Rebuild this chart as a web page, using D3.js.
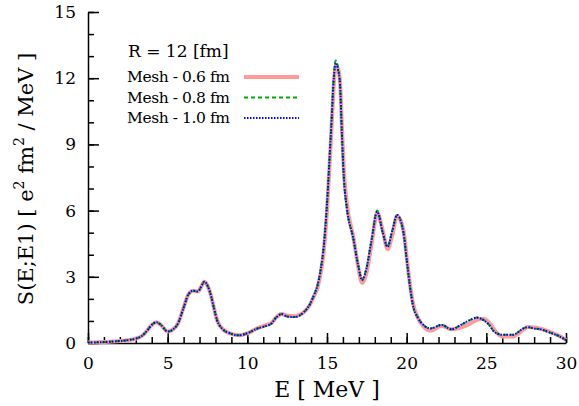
<!DOCTYPE html>
<html>
<head>
<meta charset="utf-8">
<script src="https://cdn.jsdelivr.net/npm/d3@7"></script>
<style>
  body { margin: 0; background: #fff; }
  .axis path, .axis line { stroke: #000; stroke-width: 1.5; }
</style>
</head>
<body>
<div id="chart"></div>
<script>
  // energies (MeV)
  const energy = [
    0, 1, 2, 2.5, 3, 3.4, 3.7, 4.0, 4.3, 4.6,
    5.0, 5.3, 5.65, 6.0, 6.3, 6.6, 6.9, 7.1, 7.3, 7.5,
    7.7, 7.9, 8.1, 8.5, 8.9, 9.5, 10.0, 10.6, 11.2, 11.5,
    11.8, 12.15, 12.5, 13.0, 13.5, 13.9, 14.2, 14.4, 14.6, 14.8,
    15.0, 15.2, 15.3, 15.4, 15.55, 15.7, 15.82, 15.93, 16.05, 16.25,
    16.65, 16.95, 17.2, 17.45, 17.8, 18.15, 18.5, 18.8, 19.1, 19.4,
    19.8, 20.0, 20.2, 20.4, 20.7, 21.05, 21.5, 22.2, 22.8, 23.4,
    24.0, 24.4, 24.8, 25.2, 25.5, 26.0, 26.7, 27.0, 27.3, 27.6,
    28.0, 28.4, 29.0, 29.5, 30
  ];

  const mesh06 = [
    0.02, 0.04, 0.09, 0.13, 0.2, 0.33, 0.55, 0.82, 0.94, 0.8,
    0.52, 0.6, 0.89, 1.6, 2.2, 2.37, 2.33, 2.55, 2.78, 2.6,
    2.2, 1.6, 1.04, 0.6, 0.44, 0.35, 0.44, 0.66, 0.82, 0.9,
    1.15, 1.31, 1.25, 1.22, 1.37, 1.7, 2.15, 2.5, 3.15, 4.2,
    6.0, 8.6, 10.0, 11.4, 12.55, 12.4, 11.8, 9.9, 7.9, 6.3,
    4.8, 3.5, 2.72, 3.1, 4.5, 5.9, 5.1, 4.25, 4.9, 5.75,
    5.1, 3.9, 2.7, 1.8, 1.15, 0.75, 0.56, 0.78, 0.62, 0.7,
    0.88, 1.05, 1.1, 0.9, 0.6, 0.3, 0.3, 0.42, 0.6, 0.72,
    0.7, 0.65, 0.5, 0.35, 0.14
  ];

  const mesh08 = [
    0.02, 0.04, 0.09, 0.13, 0.2, 0.33, 0.55, 0.82, 0.94, 0.8,
    0.52, 0.6, 0.89, 1.6, 2.2, 2.37, 2.33, 2.55, 2.78, 2.6,
    2.2, 1.6, 1.04, 0.6, 0.44, 0.35, 0.44, 0.65, 0.78, 0.87,
    1.15, 1.31, 1.2, 1.18, 1.37, 1.72, 2.2, 2.6, 3.3, 4.4,
    6.3, 8.9, 10.25, 11.75, 12.8, 12.45, 11.7, 9.6, 7.6, 6.1,
    4.75, 3.55, 2.88, 3.3, 4.67, 6.0, 5.0, 4.36, 5.1, 5.8,
    5.0, 3.8, 2.6, 1.7, 1.15, 0.82, 0.66, 0.82, 0.62, 0.82,
    1.05, 1.15, 1.05, 0.8, 0.51, 0.37, 0.37, 0.5, 0.65, 0.72,
    0.66, 0.62, 0.47, 0.33, 0.13
  ];

  const mesh10 = [
    0.02, 0.04, 0.09, 0.13, 0.2, 0.33, 0.55, 0.82, 0.94, 0.8,
    0.52, 0.6, 0.89, 1.6, 2.2, 2.37, 2.33, 2.55, 2.78, 2.6,
    2.2, 1.6, 1.04, 0.6, 0.44, 0.35, 0.44, 0.65, 0.78, 0.87,
    1.15, 1.31, 1.2, 1.18, 1.37, 1.72, 2.2, 2.6, 3.3, 4.4,
    6.3, 8.9, 10.25, 11.7, 12.7, 12.35, 11.7, 9.6, 7.6, 6.1,
    4.75, 3.55, 2.85, 3.3, 4.67, 5.95, 5.0, 4.36, 5.1, 5.8,
    5.0, 3.8, 2.6, 1.7, 1.15, 0.82, 0.66, 0.82, 0.62, 0.82,
    1.05, 1.15, 1.05, 0.8, 0.51, 0.37, 0.37, 0.5, 0.65, 0.72,
    0.66, 0.62, 0.47, 0.33, 0.13
  ];

  const xMajorTicks = [0, 5, 10, 15, 20, 25, 30];
  const yMajorTicks = [0, 3, 6, 9, 12, 15];

  const series = [
    { label: "Mesh - 0.6 fm", values: mesh06, color: "#ff9a9a", width: 4, dash: null },
    { label: "Mesh - 0.8 fm", values: mesh08, color: "#00a800", width: 2, dash: "4,3" },
    { label: "Mesh - 1.0 fm", values: mesh10, color: "#0000ff", width: 2, dash: "1.5,1.5" }
  ];

  const serif = "'DejaVu Serif', serif";

  const size = { width: 579, height: 406 };
  const margin = { top: 12, right: 13, bottom: 63, left: 88 };
  const width = size.width - margin.left - margin.right;
  const height = size.height - margin.top - margin.bottom;

  const svg = d3.select("#chart").append("svg")
    .attr("width", size.width)
    .attr("height", size.height)
    .style("font-family", serif);

  const graph = svg.append("g")
    .attr("transform", "translate(" + margin.left + "," + margin.top + ")");

  const xScale = d3.scaleLinear().domain([0, 30]).range([0, width]);
  const yScale = d3.scaleLinear().domain([0, 15]).range([height, 0]);

  // minor ticks every 1 unit, pointing inward
  graph.append("g")
    .attr("class", "axis")
    .attr("transform", "translate(0," + height + ")")
    .call(d3.axisBottom(xScale).tickValues(d3.range(0, 31, 1)).tickSize(-6).tickFormat(""))
    .select(".domain").remove();

  graph.append("g")
    .attr("class", "axis")
    .call(d3.axisLeft(yScale).tickValues(d3.range(0, 16, 1)).tickSize(-6).tickFormat(""))
    .select(".domain").remove();

  // major ticks with labels
  const xAxisG = graph.append("g")
    .attr("class", "axis")
    .attr("transform", "translate(0," + height + ")")
    .call(d3.axisBottom(xScale).tickValues(xMajorTicks).tickSize(-10).tickSizeOuter(0).tickPadding(14));

  const yAxisG = graph.append("g")
    .attr("class", "axis")
    .call(d3.axisLeft(yScale).tickValues(yMajorTicks).tickSize(-11).tickSizeOuter(0).tickPadding(12));

  [xAxisG, yAxisG].forEach(g => {
    g.attr("font-family", null).attr("font-size", null);
    g.selectAll("text")
      .style("font-family", serif)
      .style("font-size", "17px")
      .attr("fill", "#000");
  });

  // curves
  const line = d3.line()
    .x((d, i) => xScale(energy[i]))
    .y(d => yScale(d))
    .curve(d3.curveMonotoneX);

  series.forEach(s => {
    graph.append("path")
      .datum(s.values)
      .attr("fill", "none")
      .attr("stroke", s.color)
      .attr("stroke-width", s.width)
      .attr("stroke-dasharray", s.dash)
      .attr("d", line);
  });

  // legend
  svg.append("text")
    .attr("x", 128)
    .attr("y", 57)
    .style("font-family", serif)
    .style("font-size", "17px")
    .text("R = 12 [fm]");

  series.forEach((s, i) => {
    const y = 77 + i * 20.5;
    svg.append("text")
      .attr("x", 127)
      .attr("y", y + 5)
      .style("font-family", serif)
      .style("font-size", "15.5px")
      .attr("textLength", 103)
      .text(s.label);
    svg.append("line")
      .attr("x1", 244).attr("x2", 299)
      .attr("y1", y).attr("y2", y)
      .attr("stroke", s.color)
      .attr("stroke-width", s.width)
      .attr("stroke-dasharray", s.dash);
  });

  // axis titles
  svg.append("text")
    .attr("x", margin.left + width / 2)
    .attr("y", 397)
    .attr("text-anchor", "middle")
    .style("font-family", serif)
    .style("font-size", "22px")
    .text("E [ MeV ]");

  const yTitle = svg.append("text")
    .attr("transform", "translate(33,179) rotate(-90)")
    .attr("text-anchor", "middle")
    .style("font-family", serif)
    .style("font-size", "21px");
  yTitle.append("tspan").text("S(E;E1) [ e");
  yTitle.append("tspan").attr("dy", -9).style("font-size", "14px").text("2");
  yTitle.append("tspan").attr("dy", 9).text(" fm");
  yTitle.append("tspan").attr("dy", -9).style("font-size", "14px").text("2");
  yTitle.append("tspan").attr("dy", 9).text(" / MeV ]");
</script>
</body>
</html>
